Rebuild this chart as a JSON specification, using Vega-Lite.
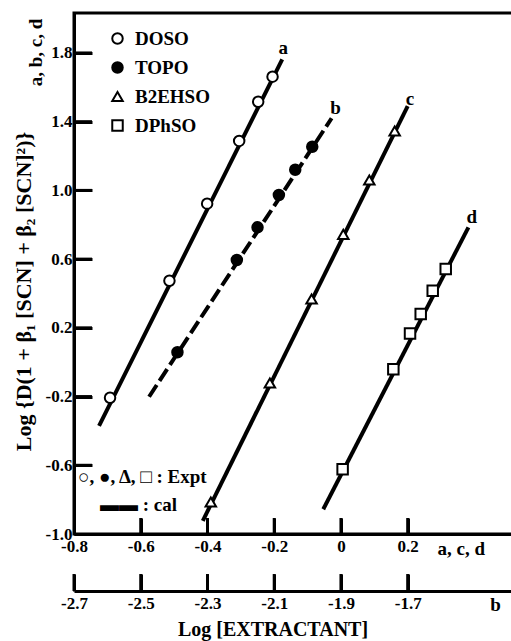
{
  "$schema": "https://vega.github.io/schema/vega-lite/v6.json",
  "width": 440,
  "height": 521,
  "autosize": "none",
  "padding": {"left": 74, "top": 13, "right": 0, "bottom": 107},
  "background": "white",
  "title": {
    "text": "Log [EXTRACTANT]",
    "orient": "bottom",
    "anchor": "middle",
    "frame": "bounds",
    "font": "Liberation Serif",
    "fontSize": 20,
    "fontWeight": "bold",
    "color": "black",
    "offset": 6,
    "dx": 10
  },
  "config": {
    "view": {"stroke": "black", "strokeWidth": 3},
    "axis": {
      "grid": false,
      "labelFont": "Liberation Serif",
      "labelFontWeight": "bold",
      "labelFontSize": 17,
      "labelColor": "black",
      "titleFont": "Liberation Serif",
      "titleFontWeight": "bold",
      "titleFontSize": 19,
      "titleColor": "black",
      "domainColor": "black",
      "domainWidth": 3,
      "labelFlush": false,
      "labelOverlap": false
    },
    "legend": {
      "orient": "none",
      "legendX": 34,
      "legendY": 16,
      "padding": 0,
      "labelFont": "Liberation Serif",
      "labelFontWeight": "bold",
      "labelFontSize": 19,
      "labelColor": "black",
      "symbolStrokeColor": "black",
      "symbolStrokeWidth": 2,
      "symbolSize": 110,
      "rowPadding": 9,
      "labelOffset": 8
    }
  },
  "datasets": {
    "expt": [
      {"series": "DOSO", "x": -0.692, "y": -0.207},
      {"series": "DOSO", "x": -0.514, "y": 0.474},
      {"series": "DOSO", "x": -0.401, "y": 0.923},
      {"series": "DOSO", "x": -0.305, "y": 1.288},
      {"series": "DOSO", "x": -0.248, "y": 1.516},
      {"series": "DOSO", "x": -0.205, "y": 1.662},
      {"series": "TOPO", "x": -2.390, "y": 0.058},
      {"series": "TOPO", "x": -2.212, "y": 0.595},
      {"series": "TOPO", "x": -2.150, "y": 0.785},
      {"series": "TOPO", "x": -2.086, "y": 0.973},
      {"series": "TOPO", "x": -2.037, "y": 1.120},
      {"series": "TOPO", "x": -1.986, "y": 1.254},
      {"series": "B2EHSO", "x": -0.390, "y": -0.814},
      {"series": "B2EHSO", "x": -0.213, "y": -0.121},
      {"series": "B2EHSO", "x": -0.088, "y": 0.368},
      {"series": "B2EHSO", "x": 0.007, "y": 0.744},
      {"series": "B2EHSO", "x": 0.085, "y": 1.061},
      {"series": "B2EHSO", "x": 0.161, "y": 1.346},
      {"series": "DPhSO", "x": 0.005, "y": -0.623},
      {"series": "DPhSO", "x": 0.157, "y": -0.041},
      {"series": "DPhSO", "x": 0.207, "y": 0.167},
      {"series": "DPhSO", "x": 0.239, "y": 0.281},
      {"series": "DPhSO", "x": 0.275, "y": 0.416},
      {"series": "DPhSO", "x": 0.314, "y": 0.542}
    ],
    "calc": [
      {"series": "DOSO", "x": -0.725, "y": -0.371},
      {"series": "DOSO", "x": -0.176, "y": 1.763},
      {"series": "TOPO", "x": -2.475, "y": -0.201},
      {"series": "TOPO", "x": -1.928, "y": 1.420},
      {"series": "B2EHSO", "x": -0.414, "y": -0.923},
      {"series": "B2EHSO", "x": 0.200, "y": 1.490},
      {"series": "DPhSO", "x": -0.053, "y": -0.856},
      {"series": "DPhSO", "x": 0.382, "y": 0.785}
    ],
    "curveLabels": [
      {"series": "DOSO", "label": "a", "x": -0.173, "y": 1.827},
      {"series": "TOPO", "label": "b", "x": -1.916, "y": 1.478},
      {"series": "B2EHSO", "label": "c", "x": 0.207, "y": 1.532},
      {"series": "DPhSO", "label": "d", "x": 0.392, "y": 0.847}
    ],
    "notes": [
      {"note": "○, ●, Δ, □ : Expt", "x": -0.788, "y": -0.668},
      {"note": "▬▬ : cal", "x": -0.722, "y": -0.831}
    ],
    "xTicks": [
      {"v": -0.6, "at": -1}, {"v": -0.6, "at": -0.907},
      {"v": -0.4, "at": -1}, {"v": -0.4, "at": -0.907},
      {"v": -0.2, "at": -1}, {"v": -0.2, "at": -0.907},
      {"v": 0, "at": -1}, {"v": 0, "at": -0.907},
      {"v": 0.2, "at": -1}, {"v": 0.2, "at": -0.907}
    ],
    "yTicks": [
      {"v": -0.6, "at": -0.8}, {"v": -0.6, "at": -0.746},
      {"v": -0.2, "at": -0.8}, {"v": -0.2, "at": -0.746},
      {"v": 0.2, "at": -0.8}, {"v": 0.2, "at": -0.746},
      {"v": 0.6, "at": -0.8}, {"v": 0.6, "at": -0.746},
      {"v": 1.0, "at": -0.8}, {"v": 1.0, "at": -0.746},
      {"v": 1.4, "at": -0.8}, {"v": 1.4, "at": -0.746},
      {"v": 1.8, "at": -0.8}, {"v": 1.8, "at": -0.746}
    ],
    "bTicks": [
      {"v": -2.7, "at": -1.332}, {"v": -2.7, "at": -1.233},
      {"v": -2.5, "at": -1.332}, {"v": -2.5, "at": -1.233},
      {"v": -2.3, "at": -1.332}, {"v": -2.3, "at": -1.233},
      {"v": -2.1, "at": -1.332}, {"v": -2.1, "at": -1.233},
      {"v": -1.9, "at": -1.332}, {"v": -1.9, "at": -1.233},
      {"v": -1.7, "at": -1.332}, {"v": -1.7, "at": -1.233}
    ]
  },
  "layer": [
    {
      "layer": [
        {
          "data": {"name": "calc"},
          "transform": [{"filter": "datum.series !== 'TOPO'"}],
          "mark": {"type": "line", "color": "black", "strokeWidth": 4},
          "encoding": {
            "x": {
              "field": "x", "type": "quantitative",
              "scale": {"domain": [-0.8, 0.5186], "nice": false, "zero": false},
              "axis": {
                "orient": "top",
                "offset": -521,
                "values": [-0.8, -0.6, -0.4, -0.2, 0, 0.2],
                "labelExpr": "replace(format(datum.value, '.1~f'), '−', '-')",
                "ticks": true,
                "tickColor": "black",
                "tickWidth": 3,
                "tickSize": 16,
                "labelPadding": -20,
                "labelBaseline": "top",
                "title": "a, c, d",
                "titleX": 363,
                "titleY": 14,
                "titleAlign": "left",
                "titleBaseline": "middle",
                "titleAnchor": "start"
              }
            },
            "y": {
              "field": "y", "type": "quantitative",
              "scale": {"domain": [-1, 2.0326], "nice": false, "zero": false},
              "axis": {
                "orient": "right",
                "offset": -440,
                "values": [-1, -0.6, -0.2, 0.2, 0.6, 1, 1.4, 1.8],
                "labelExpr": "replace(format(datum.value, '.1f'), '−', '-')",
                "ticks": true,
                "tickColor": "black",
                "tickWidth": 3,
                "tickSize": 18,
                "labelPadding": -20,
                "labelAlign": "right",
                "title": "Log {D(1 + β₁ [SCN] + β₂ [SCN]²)}",
                "titleFontSize": 22,
                "titleX": -51,
                "titleY": 278,
                "titleAngle": 270,
                "titleAlign": "center",
                "titleBaseline": "middle"
              }
            },
            "detail": {"field": "series"}
          }
        },
        {
          "data": {"name": "xTicks"},
          "mark": {"type": "line", "color": "black", "strokeWidth": 3},
          "encoding": {
            "x": {"field": "v", "type": "quantitative"},
            "y": {"field": "at", "type": "quantitative"},
            "detail": {"field": "v"}
          }
        },
        {
          "data": {"name": "yTicks"},
          "mark": {"type": "line", "color": "black", "strokeWidth": 3},
          "encoding": {
            "x": {"field": "at", "type": "quantitative"},
            "y": {"field": "v", "type": "quantitative"},
            "detail": {"field": "v"}
          }
        },
        {
          "data": {"name": "expt"},
          "transform": [{"filter": "datum.series !== 'TOPO'"}],
          "mark": {"type": "point", "filled": false, "strokeWidth": 2, "opacity": 1, "size": 110},
          "encoding": {
            "x": {"field": "x", "type": "quantitative"},
            "y": {"field": "y", "type": "quantitative"},
            "shape": {
              "field": "series", "type": "nominal", "title": null,
              "scale": {"domain": ["DOSO", "TOPO", "B2EHSO", "DPhSO"], "range": ["circle", "circle", "triangle-up", "square"]}
            },
            "fill": {
              "field": "series", "type": "nominal", "title": null,
              "scale": {"domain": ["DOSO", "TOPO", "B2EHSO", "DPhSO"], "range": ["white", "black", "white", "white"]}
            },
            "stroke": {
              "field": "series", "type": "nominal", "title": null,
              "scale": {"domain": ["DOSO", "TOPO", "B2EHSO", "DPhSO"], "range": ["black", "black", "black", "black"]}
            }
          }
        },
        {
          "data": {"name": "curveLabels"},
          "transform": [{"filter": "datum.series !== 'TOPO'"}],
          "mark": {"type": "text", "font": "Liberation Serif", "fontWeight": "bold", "fontSize": 19, "color": "black", "align": "center", "baseline": "middle"},
          "encoding": {
            "x": {"field": "x", "type": "quantitative"},
            "y": {"field": "y", "type": "quantitative"},
            "text": {"field": "label"}
          }
        },
        {
          "data": {"name": "notes"},
          "mark": {"type": "text", "font": "Liberation Serif", "fontWeight": "bold", "fontSize": 19, "color": "black", "align": "left", "baseline": "middle"},
          "encoding": {
            "x": {"field": "x", "type": "quantitative"},
            "y": {"field": "y", "type": "quantitative"},
            "text": {"field": "note"}
          }
        }
      ]
    },
    {
      "layer": [
        {
          "data": {"name": "calc"},
          "transform": [{"filter": "datum.series === 'TOPO'"}],
          "mark": {"type": "line", "color": "black", "strokeWidth": 4, "strokeDash": [14, 5]},
          "encoding": {
            "x": {
              "field": "x", "type": "quantitative",
              "scale": {"domain": [-2.7, -1.3814], "nice": false, "zero": false},
              "axis": {
                "orient": "top",
                "offset": -578,
                "values": [-2.7, -2.5, -2.3, -2.1, -1.9, -1.7],
                "labelExpr": "replace(format(datum.value, '.1f'), '−', '-')",
                "ticks": true,
                "tickColor": "black",
                "tickWidth": 3,
                "tickSize": 17,
                "labelPadding": -21,
                "labelBaseline": "top",
                "title": "b",
                "titleX": 421,
                "titleY": 13,
                "titleAlign": "center",
                "titleBaseline": "middle",
                "titleAnchor": "start"
              }
            },
            "y": {
              "field": "y", "type": "quantitative",
              "scale": {"domain": [-1, 2.0326], "nice": false, "zero": false},
              "axis": {
                "orient": "right",
                "offset": -440,
                "labels": false,
                "ticks": false,
                "domain": false,
                "title": "a, b, c, d",
                "titleX": -39,
                "titleY": 39,
                "titleAngle": 270,
                "titleAlign": "center",
                "titleBaseline": "middle"
              }
            }
          }
        },
        {
          "data": {"name": "bTicks"},
          "mark": {"type": "line", "color": "black", "strokeWidth": 3},
          "encoding": {
            "x": {"field": "v", "type": "quantitative"},
            "y": {"field": "at", "type": "quantitative"},
            "detail": {"field": "v"}
          }
        },
        {
          "data": {"name": "expt"},
          "transform": [{"filter": "datum.series === 'TOPO'"}],
          "mark": {"type": "point", "filled": false, "strokeWidth": 2, "opacity": 1, "size": 110},
          "encoding": {
            "x": {"field": "x", "type": "quantitative"},
            "y": {"field": "y", "type": "quantitative"},
            "shape": {
              "field": "series", "type": "nominal", "title": null,
              "scale": {"domain": ["DOSO", "TOPO", "B2EHSO", "DPhSO"], "range": ["circle", "circle", "triangle-up", "square"]}
            },
            "fill": {
              "field": "series", "type": "nominal", "title": null,
              "scale": {"domain": ["DOSO", "TOPO", "B2EHSO", "DPhSO"], "range": ["white", "black", "white", "white"]}
            },
            "stroke": {
              "field": "series", "type": "nominal", "title": null,
              "scale": {"domain": ["DOSO", "TOPO", "B2EHSO", "DPhSO"], "range": ["black", "black", "black", "black"]}
            }
          }
        },
        {
          "data": {"name": "curveLabels"},
          "transform": [{"filter": "datum.series === 'TOPO'"}],
          "mark": {"type": "text", "font": "Liberation Serif", "fontWeight": "bold", "fontSize": 19, "color": "black", "align": "center", "baseline": "middle"},
          "encoding": {
            "x": {"field": "x", "type": "quantitative"},
            "y": {"field": "y", "type": "quantitative"},
            "text": {"field": "label"}
          }
        }
      ]
    }
  ],
  "resolve": {"scale": {"x": "independent", "y": "independent"}}
}
